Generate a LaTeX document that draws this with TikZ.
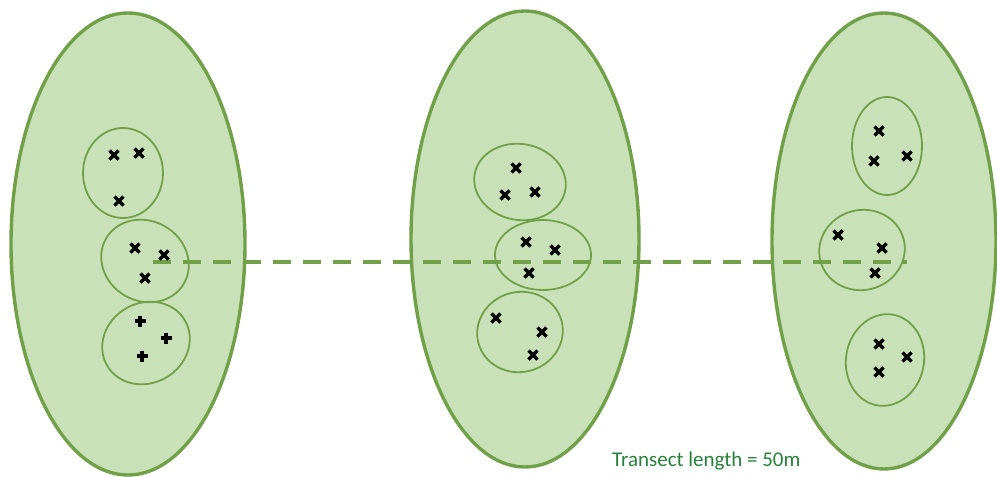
\documentclass[tikz,border=0pt]{standalone}
\usepackage{fontspec}
\setmainfont{Carlito}
\definecolor{fillg}{RGB}{201,225,185}
\definecolor{lineg}{RGB}{112,160,72}
\definecolor{textg}{RGB}{38,128,58}
\begin{document}
\begin{tikzpicture}[x=1pt,y=-1pt,
  big/.style={draw=lineg,fill=fillg,line width=3.4pt},
  small/.style={draw=lineg,line width=1.8pt},
  xm/.style={line width=3.2pt,black},
  transect/.style={draw=lineg,line width=3.8pt,dash pattern=on 18pt off 12pt}]
\useasboundingbox (0,0) rectangle (997,477);
% big ellipses
\path[big] (128,244) ellipse [x radius=117,y radius=231];
\path[big] (525,239) ellipse [x radius=114,y radius=228];
\path[big] (884,241) ellipse [x radius=112,y radius=228];
% transect
\coordinate (t0) at (153,262);
\coordinate (t1) at (907,262);
\draw[transect] (t0) -- (t1);
% small ellipses left
\draw[small] (123,173) ellipse [x radius=40,y radius=45];
\draw[small,rotate around={-30:(145,261)}] (145,261) ellipse [x radius=45,y radius=40];
\draw[small,rotate around={30:(146,343)}] (146,343) ellipse [x radius=45,y radius=40];
% small ellipses middle
\draw[small,rotate around={-10:(520,182)}] (520,182) ellipse [x radius=46,y radius=38];
\draw[small] (543,255) ellipse [x radius=48,y radius=35];
\draw[small,rotate around={15:(520,332)}] (520,332) ellipse [x radius=43,y radius=40];
% small ellipses right
\draw[small] (887,146) ellipse [x radius=35,y radius=49];
\draw[small,rotate around={15:(862,250)}] (862,250) ellipse [x radius=43,y radius=40];
\draw[small,rotate around={-10:(885,360)}] (885,360) ellipse [x radius=39,y radius=46];
% x marks
\foreach \p in {(114,155),(139,153),(119,201),(135,248),(164,255),(145,278),
  (516,168),(505,195),(535,192),(526,242),(555,250),(529,273),(496,318),(542,332),(533,355),
  (879,131),(874,161),(907,156),(838,235),(882,248),(875,273),(879,344),(907,357),(879,372)}
  {\draw[xm] \p ++(-4.5,-4.5) -- ++(9,9) \p ++(-4.5,4.5) -- ++(9,-9);}
% plus marks
\foreach \p in {(140,321),(166,338),(142,356)}
  {\draw[xm] \p ++(-5.5,0) -- ++(11,0) \p ++(0,-5.5) -- ++(0,11);}
\node[text=textg,font=\fontsize{21}{25}\selectfont,anchor=west,inner sep=0pt] (lbl) at (612,461) {Transect length = 50m};
\end{tikzpicture}
\end{document}
